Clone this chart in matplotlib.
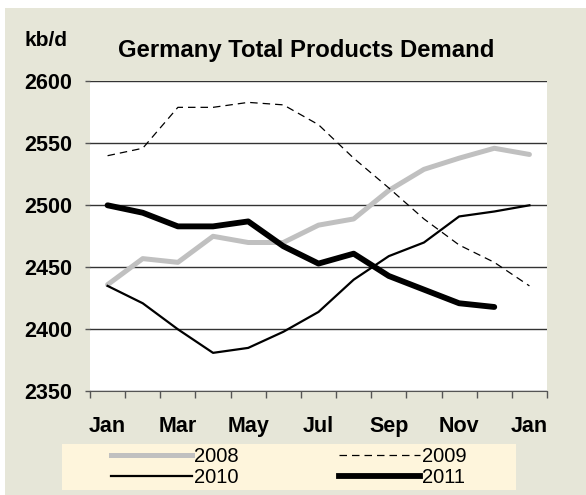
import matplotlib.pyplot as plt
from matplotlib.patches import Rectangle
from matplotlib.lines import Line2D

plt.rcParams['font.family'] = ['Liberation Sans', 'DejaVu Sans']

# Monthly demand, kb/d (Jan..Dec, following Jan)
months = ['Jan', 'Feb', 'Mar', 'Apr', 'May', 'Jun', 'Jul',
          'Aug', 'Sep', 'Oct', 'Nov', 'Dec', 'Jan']
d2008 = [2436, 2457, 2454, 2475, 2470, 2470, 2484, 2489, 2512, 2529, 2538, 2546, 2541]
d2009 = [2540, 2546, 2579, 2579, 2583, 2581, 2565, 2538, 2514, 2489, 2468, 2454, 2435]
d2010 = [2435, 2421, 2400, 2381, 2385, 2398, 2414, 2440, 2459, 2470, 2491, 2495, 2500]
d2011 = [2500, 2494, 2483, 2483, 2487, 2467, 2453, 2461, 2443, 2432, 2421, 2418]

bg = '#E6E6D8'
fig = plt.figure(figsize=(5.86, 4.95), dpi=100)
fig.patch.set_facecolor('white')
fig.patches.append(Rectangle((5 / 586, 0), 1, 1 - 8 / 495, transform=fig.transFigure,
                             facecolor=bg, edgecolor='none', zorder=-10))

ax = fig.add_axes([90 / 586, 1 - 391.3 / 495, 457 / 586, 310 / 495])
ax.set_facecolor('white')

x = list(range(len(months)))
ax.plot(x, d2008, color='#C0C0C0', lw=3.6, solid_capstyle='round', zorder=3)
ax.plot(x, d2009, color='black', lw=0.9, dashes=(6, 4), zorder=3)
ax.plot(x, d2010, color='black', lw=1.6, zorder=3)
ax.plot(x[:len(d2011)], d2011, color='black', lw=4.2, solid_capstyle='round', zorder=4)

ax.set_xlim(-0.5, len(months) - 0.5)
ax.set_ylim(2350, 2600)
ax.set_yticks(range(2350, 2601, 50))
ax.yaxis.grid(True, color='#333333', lw=1.0)
ax.set_axisbelow(True)

ax.set_xticks(x[::2])
ax.set_xticklabels(months[::2])
ax.set_xticks([i - 0.5 for i in range(len(months) + 1)], minor=True)
ax.tick_params(axis='x', which='major', length=0, pad=18, labelsize=15.5)
ax.tick_params(axis='x', which='minor', length=4.8, color='#555555', width=1)
ax.tick_params(axis='y', length=3.6, color='#555555', width=1, labelsize=15.5, pad=9)
for lab in ax.get_xticklabels() + ax.get_yticklabels():
    lab.set_fontweight('bold')

for side in ['top', 'right', 'left']:
    ax.spines[side].set_visible(False)
ax.spines['bottom'].set_color('#555555')

fig.text(24 / 586, 1 - 46 / 495, 'kb/d', fontsize=15, fontweight='bold', va='baseline')
fig.text(306 / 586, 1 - 57 / 495, 'Germany Total Products Demand', fontsize=17.2,
         fontweight='bold', ha='center', va='baseline')

# legend box
fig.patches.append(Rectangle((62 / 586, 1 - 490 / 495), 454 / 586, 46 / 495,
                             transform=fig.transFigure, facecolor='#FEF5DC',
                             edgecolor='none', zorder=-5))
handles = [
    Line2D([], [], color='#C0C0C0', lw=3.6),
    Line2D([], [], color='black', lw=1.6),
    Line2D([], [], color='black', lw=0.9, dashes=(6, 4)),
    Line2D([], [], color='black', lw=4.2),
]
leg = fig.legend(handles, ['2008', '2010', '2009', '2011'], ncol=2,
                 loc='center', bbox_to_anchor=(289 / 586, 1 - 467 / 495),
                 frameon=False, fontsize=14.5, handlelength=4.0, handletextpad=0.1,
                 columnspacing=5.0, labelspacing=0.1, borderpad=0)

fig.savefig('out.png', dpi=100, facecolor=fig.get_facecolor())
